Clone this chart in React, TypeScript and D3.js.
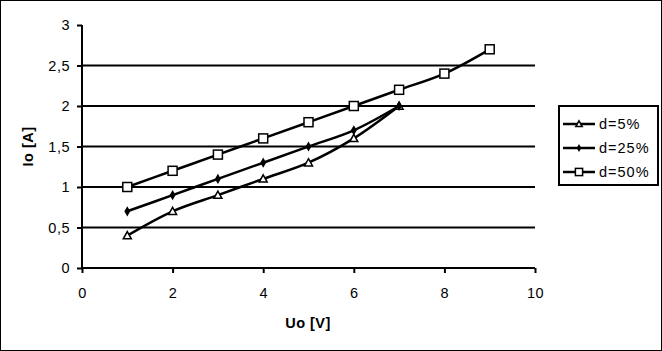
import React, { useEffect, useRef } from 'react';
import * as d3 from 'd3';

const uo5 = [1, 2, 3, 4, 5, 6, 7];
const io5 = [0.4, 0.7, 0.9, 1.1, 1.3, 1.6, 2.0];
const uo25 = [1, 2, 3, 4, 5, 6, 7];
const io25 = [0.7, 0.9, 1.1, 1.3, 1.5, 1.7, 2.0];
const uo50 = [1, 2, 3, 4, 5, 6, 7, 8, 9];
const io50 = [1.0, 1.2, 1.4, 1.6, 1.8, 2.0, 2.2, 2.4, 2.7];
const seriesNames = ['d=5%', 'd=25%', 'd=50%'];
const xTicks = [0, 2, 4, 6, 8, 10];
const yTicks = [0, 0.5, 1, 1.5, 2, 2.5, 3];

const W = 662;
const H = 351;
const font = '"Liberation Sans", Arial, sans-serif';
const fs = 14.5;

function App() {
    const ref = useRef<SVGSVGElement>(null);

    useEffect(() => {
        const svg = d3.select(ref.current);
        svg.selectAll('*').remove();

        const x = d3.scaleLinear().domain([0, 10]).range([82, 535]);
        const y = d3.scaleLinear().domain([0, 3]).range([268, 25]);

        svg.append('rect')
            .attr('x', 0.5).attr('y', 0.5)
            .attr('width', W - 1).attr('height', H - 1)
            .attr('fill', 'white').attr('stroke', 'black');

        // grid lines
        svg.append('g')
            .selectAll('line')
            .data(yTicks.filter(v => v > 0 && v < 3))
            .join('line')
            .attr('x1', x(0)).attr('x2', x(10))
            .attr('y1', d => y(d)).attr('y2', d => y(d))
            .attr('stroke', 'black').attr('stroke-width', 2);

        const yAxis = svg.append('g')
            .attr('transform', `translate(${x(0)},0)`)
            .attr('font-size', fs)
            .call(d3.axisLeft(y).tickValues(yTicks).tickSize(5).tickPadding(7)
                .tickFormat(d => String(d).replace('.', ',')));
        yAxis.select('.domain').attr('stroke-width', 2).attr('d', `M0,${y(3)}V${y(0)}`);
        yAxis.selectAll('line').attr('stroke-width', 2);
        yAxis.selectAll('text').attr('font-family', font).style('font-size', fs + 'px')
            .attr('letter-spacing', 0.5).attr('fill', 'black');

        const xAxis = svg.append('g')
            .attr('transform', `translate(0,${y(0)})`)
            .call(d3.axisBottom(x).tickValues(xTicks).tickSize(5).tickPadding(15));
        xAxis.select('.domain').attr('stroke-width', 2).attr('d', `M${x(0)},0H${x(10)}`);
        xAxis.selectAll('line').attr('stroke-width', 2);
        xAxis.selectAll('text').attr('font-family', font).style('font-size', fs + 'px')
            .attr('letter-spacing', 0.5).attr('fill', 'black');

        svg.append('text')
            .attr('transform', `translate(33,${y(1.5)}) rotate(-90)`)
            .attr('text-anchor', 'middle')
            .attr('font-family', font).style('font-size', fs + 'px').attr('font-weight', 'bold')
            .attr('letter-spacing', 0.5)
            .text('Io [A]');
        svg.append('text')
            .attr('x', 308).attr('y', 328)
            .attr('text-anchor', 'middle')
            .attr('font-family', font).style('font-size', fs + 'px').attr('font-weight', 'bold')
            .attr('letter-spacing', 0.5)
            .text('Uo [V]');

        const series = [
            { xs: uo5, ys: io5, marker: 'tri' },
            { xs: uo25, ys: io25, marker: 'dot' },
            { xs: uo50, ys: io50, marker: 'sq' },
        ];

        const line = d3.line<[number, number]>()
            .x(d => x(d[0])).y(d => y(d[1]))
            .curve(d3.curveCatmullRom.alpha(0.5));

        const drawMarker = (g: any, kind: string, cx: number, cy: number, s = 1) => {
            if (kind === 'sq') {
                const h = 4.5 * s;
                g.append('rect').attr('x', cx - h).attr('y', cy - h).attr('width', 2 * h).attr('height', 2 * h)
                    .attr('fill', 'white').attr('stroke', 'black').attr('stroke-width', 1.5);
            } else if (kind === 'tri') {
                const h = 4 * s;
                g.append('path').attr('d', `M${cx},${cy - h}L${cx + h},${cy + h * 0.8}L${cx - h},${cy + h * 0.8}Z`)
                    .attr('fill', 'white').attr('stroke', 'black').attr('stroke-width', 1.5);
            } else {
                g.append('path').attr('d', d3.symbol(d3.symbolDiamond, 30 * s * s)())
                    .attr('transform', `translate(${cx},${cy})`).attr('fill', 'black');
            }
        };

        series.forEach(s => {
            const pts = s.xs.map((v, i) => [v, s.ys[i]] as [number, number]);
            const g = svg.append('g');
            g.append('path').attr('d', line(pts)).attr('fill', 'none')
                .attr('stroke', 'black').attr('stroke-width', 2.5);
            pts.forEach(p => drawMarker(g, s.marker, x(p[0]), y(p[1])));
        });

        // legend
        const lg = svg.append('g');
        lg.append('rect').attr('x', 559).attr('y', 106).attr('width', 99).attr('height', 79)
            .attr('fill', 'white').attr('stroke', 'black').attr('stroke-width', 2);
        series.forEach((s, i) => {
            const ly = 124 + i * 24;
            lg.append('line').attr('x1', 563).attr('x2', 595).attr('y1', ly).attr('y2', ly)
                .attr('stroke', 'black').attr('stroke-width', 2.5);
            drawMarker(lg, s.marker, 579, ly, 0.8);
            lg.append('text').attr('x', 599).attr('y', ly + 5)
                .attr('font-family', font).style('font-size', fs + 'px')
                .attr('letter-spacing', 1).text(seriesNames[i]);
        });
    }, []);

    return (
        <svg ref={ref} width={W} height={H}
            style={{ position: 'absolute', left: 0, top: 0, display: 'block' }} />
    );
}

export default App;
